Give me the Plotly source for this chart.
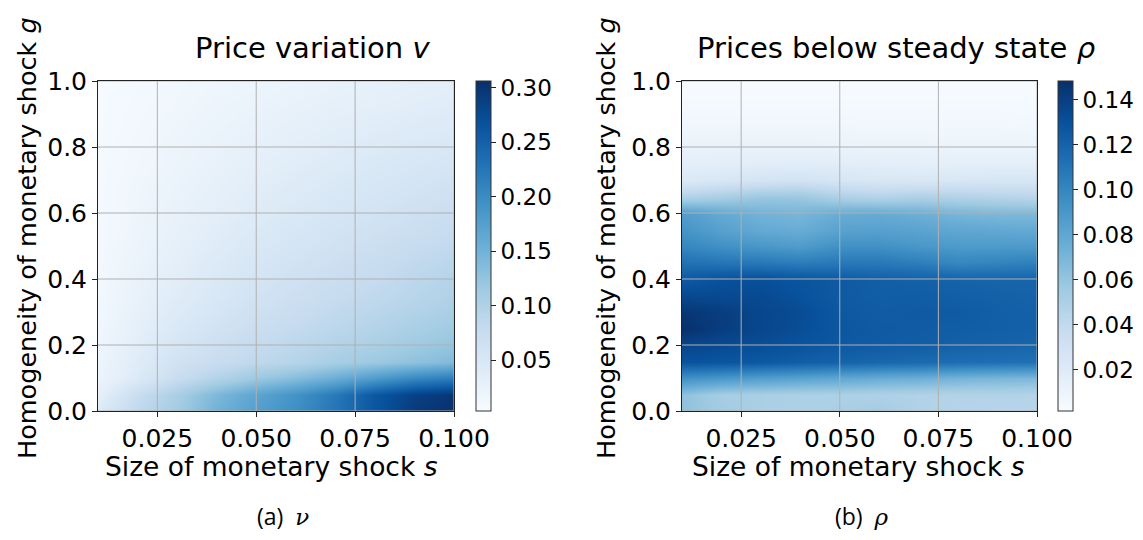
import plotly.graph_objects as go

# The page body has an 8px margin; the figure is sized so the whole page is 1143x540.
OFF = 8
W, H = 1143 - 2 * OFF, 540 - 2 * OFF

s_vals = [0.01, 0.02, 0.03, 0.04, 0.05, 0.06, 0.07, 0.08, 0.09, 0.10]
g_vals = [0.00, 0.05, 0.10, 0.15, 0.20, 0.25, 0.30, 0.35, 0.40, 0.45, 0.50,
          0.55, 0.60, 0.65, 0.70, 0.75, 0.80, 0.85, 0.90, 0.95, 1.00]

# price variation v, rows follow g_vals (bottom to top), columns follow s_vals
v_rows = [
    [0.045, 0.085, 0.112, 0.150, 0.175, 0.195, 0.225, 0.262, 0.292, 0.305],
    [0.030, 0.075, 0.107, 0.142, 0.168, 0.192, 0.222, 0.262, 0.287, 0.300],
    [0.020, 0.045, 0.075, 0.097, 0.118, 0.135, 0.155, 0.180, 0.203, 0.217],
    [0.018, 0.040, 0.062, 0.075, 0.085, 0.095, 0.108, 0.118, 0.128, 0.138],
    [0.016, 0.036, 0.055, 0.068, 0.079, 0.088, 0.097, 0.105, 0.115, 0.124],
    [0.014, 0.032, 0.048, 0.061, 0.072, 0.081, 0.089, 0.097, 0.106, 0.115],
    [0.013, 0.029, 0.043, 0.055, 0.066, 0.074, 0.083, 0.090, 0.098, 0.106],
    [0.012, 0.026, 0.039, 0.050, 0.061, 0.069, 0.077, 0.084, 0.092, 0.100],
    [0.011, 0.024, 0.036, 0.047, 0.057, 0.065, 0.072, 0.079, 0.088, 0.096],
    [0.010, 0.022, 0.033, 0.044, 0.053, 0.061, 0.068, 0.075, 0.083, 0.090],
    [0.010, 0.020, 0.030, 0.040, 0.049, 0.056, 0.063, 0.070, 0.077, 0.083],
    [0.009, 0.019, 0.028, 0.037, 0.045, 0.052, 0.059, 0.065, 0.071, 0.077],
    [0.009, 0.018, 0.026, 0.034, 0.041, 0.048, 0.054, 0.060, 0.066, 0.072],
    [0.008, 0.016, 0.024, 0.031, 0.038, 0.044, 0.050, 0.055, 0.061, 0.066],
    [0.008, 0.015, 0.022, 0.029, 0.035, 0.041, 0.046, 0.051, 0.056, 0.061],
    [0.007, 0.014, 0.020, 0.026, 0.032, 0.037, 0.042, 0.047, 0.051, 0.055],
    [0.007, 0.013, 0.019, 0.024, 0.029, 0.034, 0.039, 0.043, 0.047, 0.050],
    [0.006, 0.012, 0.017, 0.022, 0.026, 0.031, 0.035, 0.039, 0.042, 0.045],
    [0.006, 0.011, 0.015, 0.020, 0.024, 0.028, 0.032, 0.035, 0.038, 0.041],
    [0.005, 0.010, 0.014, 0.018, 0.021, 0.025, 0.028, 0.031, 0.034, 0.037],
    [0.004, 0.009, 0.013, 0.016, 0.019, 0.022, 0.025, 0.028, 0.031, 0.033],
]

# prices below steady state rho
rho_rows = [
    [0.062, 0.055, 0.051, 0.050, 0.051, 0.054, 0.048, 0.046, 0.045, 0.045],
    [0.062, 0.053, 0.051, 0.050, 0.050, 0.049, 0.048, 0.047, 0.047, 0.047],
    [0.094, 0.090, 0.086, 0.083, 0.080, 0.077, 0.075, 0.072, 0.070, 0.069],
    [0.129, 0.128, 0.126, 0.123, 0.120, 0.118, 0.116, 0.114, 0.113, 0.112],
    [0.137, 0.134, 0.132, 0.129, 0.126, 0.124, 0.123, 0.121, 0.120, 0.119],
    [0.148, 0.141, 0.136, 0.132, 0.127, 0.125, 0.124, 0.123, 0.122, 0.121],
    [0.145, 0.141, 0.136, 0.133, 0.126, 0.124, 0.125, 0.125, 0.122, 0.121],
    [0.135, 0.134, 0.134, 0.130, 0.125, 0.123, 0.123, 0.122, 0.121, 0.120],
    [0.125, 0.130, 0.131, 0.128, 0.125, 0.122, 0.121, 0.120, 0.119, 0.119],
    [0.112, 0.110, 0.108, 0.106, 0.108, 0.108, 0.105, 0.100, 0.102, 0.104],
    [0.100, 0.094, 0.090, 0.087, 0.094, 0.094, 0.090, 0.088, 0.088, 0.088],
    [0.092, 0.084, 0.078, 0.076, 0.083, 0.084, 0.082, 0.080, 0.079, 0.078],
    [0.086, 0.078, 0.072, 0.070, 0.076, 0.077, 0.074, 0.070, 0.068, 0.068],
    [0.048, 0.052, 0.058, 0.058, 0.050, 0.047, 0.050, 0.048, 0.046, 0.044],
    [0.022, 0.025, 0.028, 0.030, 0.026, 0.024, 0.024, 0.025, 0.026, 0.026],
    [0.016, 0.017, 0.018, 0.018, 0.018, 0.017, 0.016, 0.016, 0.016, 0.016],
    [0.012, 0.012, 0.012, 0.012, 0.011, 0.011, 0.011, 0.010, 0.010, 0.010],
    [0.008, 0.008, 0.008, 0.008, 0.008, 0.007, 0.007, 0.007, 0.007, 0.007],
    [0.005, 0.005, 0.005, 0.005, 0.005, 0.005, 0.005, 0.005, 0.005, 0.004],
    [0.003, 0.003, 0.003, 0.003, 0.003, 0.003, 0.003, 0.003, 0.003, 0.003],
    [0.002, 0.002, 0.002, 0.002, 0.002, 0.002, 0.002, 0.002, 0.002, 0.002],
]

x_ticks = [0.025, 0.050, 0.075, 0.100]
x_ticklabels = ["0.025", "0.050", "0.075", "0.100"]
y_ticks = [0.0, 0.2, 0.4, 0.6, 0.8, 1.0]
y_ticklabels = ["0.0", "0.2", "0.4", "0.6", "0.8", "1.0"]
v_cbar_ticks = [0.05, 0.10, 0.15, 0.20, 0.25, 0.30]
rho_cbar_ticks = [0.02, 0.04, 0.06, 0.08, 0.10, 0.12, 0.14]
v_range = (0.0033, 0.306)
rho_range = (0.0016, 0.1484)

blues = [[0.0, "#f7fbff"], [0.125, "#deebf7"], [0.25, "#c6dbef"], [0.375, "#9ecae1"],
         [0.5, "#6baed6"], [0.625, "#4292c6"], [0.75, "#2171b5"], [0.875, "#08519c"],
         [1.0, "#08306b"]]

FONT = "DejaVu Sans"
TXT = "#000000"
TICK_SIZE = 25
CBAR_TICK_SIZE = 23

def px_x(p):
    return (p - OFF) / W

def px_y(p):
    return 1 - (p - OFF) / H

def cbar(xpix, ticks):
    return dict(
        x=px_x(xpix), xanchor="left", xpad=0,
        y=px_y(246), yanchor="middle", ypad=0,
        len=330 / H, lenmode="fraction", thickness=15,
        outlinewidth=1, outlinecolor="#333333",
        ticks="outside", ticklen=5, tickwidth=1, tickcolor="#222222",
        tickvals=ticks, tickformat=".2f",
        tickfont=dict(family=FONT, size=CBAR_TICK_SIZE, color=TXT),
    )

fig = go.Figure()
fig.add_trace(go.Heatmap(
    x=s_vals, y=g_vals, z=v_rows, colorscale=blues, zsmooth="best",
    zmin=v_range[0], zmax=v_range[1], colorbar=cbar(476, v_cbar_ticks),
    xaxis="x", yaxis="y", hoverinfo="skip"))
fig.add_trace(go.Heatmap(
    x=s_vals, y=g_vals, z=rho_rows, colorscale=blues, zsmooth="best",
    zmin=rho_range[0], zmax=rho_range[1], colorbar=cbar(1058, rho_cbar_ticks),
    xaxis="x2", yaxis="y2", hoverinfo="skip"))

def xax(dom, anchor):
    return dict(domain=dom, anchor=anchor, range=[0.01, 0.1], tickvals=x_ticks,
                ticktext=x_ticklabels, ticks="outside", ticklen=5, tickcolor="#222222",
                showgrid=False, zeroline=False, showline=True, linecolor="#222222",
                linewidth=1, mirror=True, automargin=False,
                tickfont=dict(family=FONT, size=TICK_SIZE, color=TXT))

def yax(dom, anchor):
    return dict(domain=dom, anchor=anchor, range=[0, 1], tickvals=y_ticks,
                ticktext=y_ticklabels, ticks="outside", ticklen=5, tickcolor="#222222",
                showgrid=False, zeroline=False, showline=True, linecolor="#222222",
                linewidth=1, mirror=True, automargin=False,
                tickfont=dict(family=FONT, size=TICK_SIZE, color=TXT))

ydom = [px_y(411), px_y(81)]
fig.update_layout(
    width=W, height=H, margin=dict(l=0, r=0, t=0, b=0, pad=0, autoexpand=False),
    paper_bgcolor="white", plot_bgcolor="white", showlegend=False,
    xaxis=xax([px_x(98), px_x(454)], "y"),
    yaxis=yax(ydom, "x"),
    xaxis2=xax([px_x(682), px_x(1037)], "y2"),
    yaxis2=yax(ydom, "x2"),
)

# grid lines drawn above the image (as matplotlib does)
for xr, yr in (("x", "y domain"), ("x2", "y2 domain")):
    for t in x_ticks:
        fig.add_shape(type="line", xref=xr, yref=yr, x0=t, x1=t, y0=0, y1=1,
                      line=dict(color="#b0b0b0", width=1), layer="above")
for xr, yr in (("x domain", "y"), ("x2 domain", "y2")):
    for t in y_ticks:
        fig.add_shape(type="line", xref=xr, yref=yr, x0=0, x1=1, y0=t, y1=t,
                      line=dict(color="#b0b0b0", width=1), layer="above")

def ann(text, xpix, ypix, size, angle=0, family=FONT):
    fig.add_annotation(text=text, x=px_x(xpix), y=px_y(ypix), xref="paper", yref="paper",
                       showarrow=False, textangle=angle, xanchor="center", yanchor="middle",
                       borderpad=0, font=dict(family=family, size=size, color=TXT))

ann("Price variation <i>v</i>", 312, 48, 29)
ann("Prices below steady state <i>ρ</i>", 896, 48, 29)
ann("Size of monetary shock <i>s</i>", 271, 466, 26.5)
ann("Size of monetary shock <i>s</i>", 858, 466, 26.5)
ann("Homogeneity of monetary shock <i>g</i>", 27, 238, 25.5, angle=-90)
ann("Homogeneity of monetary shock <i>g</i>", 606, 238, 25.5, angle=-90)
ann("(a)&nbsp;&nbsp;<span style=\"font-family:'DejaVu Serif'\"><i>ν</i></span>", 283, 516, 23,
    family="Open Sans")
ann("(b)&nbsp;&nbsp;<span style=\"font-family:'DejaVu Serif'\"><i>ρ</i></span>", 862, 516, 23,
    family="Open Sans")

fig.write_html("out.html")
